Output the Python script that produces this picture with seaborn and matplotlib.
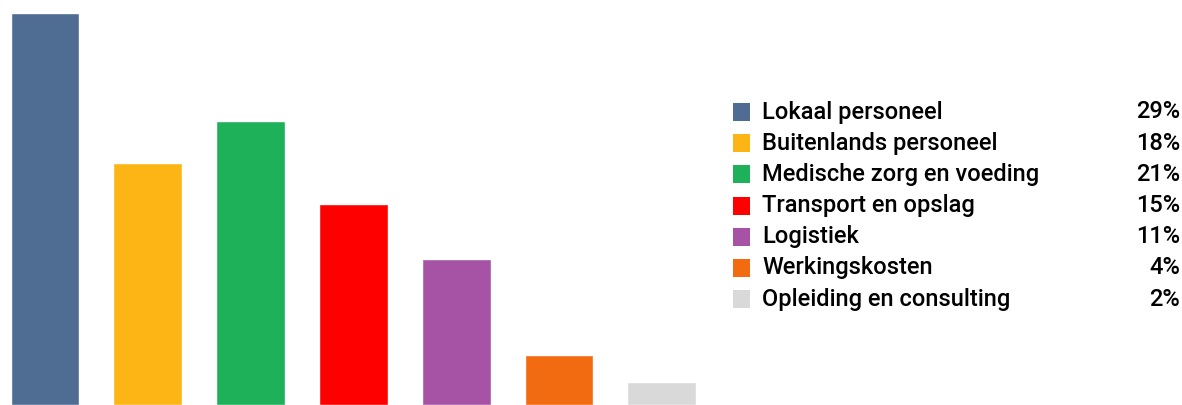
import matplotlib
matplotlib.use("Agg")
import matplotlib.pyplot as plt
import matplotlib.patches as mpatches
import seaborn as sns
import pandas as pd

categories = ["Lokaal personeel", "Buitenlands personeel", "Medische zorg en voeding",
              "Transport en opslag", "Logistiek", "Werkingskosten", "Opleiding en consulting"]
shares = [29.0, 17.9, 21.0, 14.9, 10.8, 3.7, 1.7]
colors = ["#4F6D93", "#FDB515", "#1FB05A", "#FF0000", "#A653A6", "#F26B10", "#D9D9D9"]

df = pd.DataFrame({"categorie": categories, "aandeel": shares})

sns.set_style("white")
plt.rcParams["font.family"] = ["Roboto", "DejaVu Sans"]

W, H = 1182, 405
fig = plt.figure(figsize=(W / 100, H / 100), dpi=100)
ax = fig.add_axes([0, 0, 720 / W, 392 / H])

sns.barplot(data=df, x="categorie", y="aandeel", hue="categorie", palette=colors,
            width=0.67, legend=False, ax=ax, saturation=1)
ax.set_xlim(-0.438, 6.566)
ax.set_ylim(0, 29)
ax.axis("off")

# legend, drawn by hand so percentages can be right aligned
row_y = 112
for cat, val, col in zip(categories, shares, colors):
    yf = (H - row_y) / H
    fig.add_artist(mpatches.Rectangle((733 / W, yf - 9 / H), 17 / W, 18 / H,
                                      transform=fig.transFigure, color=col, lw=0))
    fig.text(762 / W, yf, cat, fontsize=17, fontweight="medium", va="center", ha="left", color="black")
    fig.text(1180 / W, yf, "{:.0f}%".format(val), fontsize=17, fontweight="medium",
             va="center", ha="right", color="black")
    row_y += 31.2

fig.savefig("out.png", dpi=100)
